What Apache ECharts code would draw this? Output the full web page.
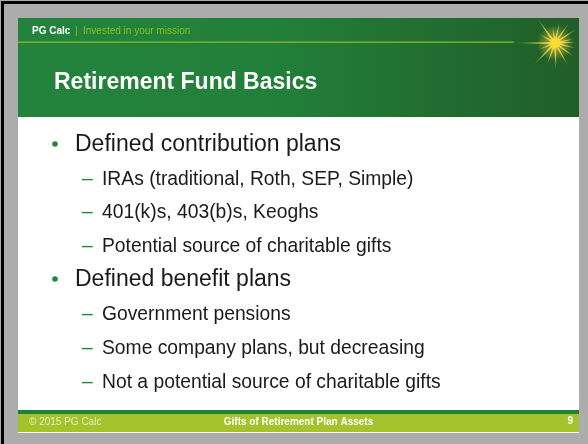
<!DOCTYPE html>
<html>
<head>
<meta charset="utf-8">
<script src="https://cdn.jsdelivr.net/npm/echarts@6/dist/echarts.min.js"></script>
<style>
html,body{margin:0;padding:0;background:#acacac;}
#c{width:588px;height:444px;}
</style>
</head>
<body>
<div id="c"></div>
<script>
// ---- content (text data) ----
var brandName = "PG Calc";
var brandTagline = "Invested in your mission";
var slideTitle = "Retirement Fund Basics";
var mainBullets = ["Defined contribution plans", "Defined benefit plans"];
var subBullets1 = ["IRAs (traditional, Roth, SEP, Simple)", "401(k)s, 403(b)s, Keoghs", "Potential source of charitable gifts"];
var subBullets2 = ["Government pensions", "Some company plans, but decreasing", "Not a potential source of charitable gifts"];
var footerLeft = "\u00A9 2015 PG Calc";
var footerCenter = "Gifts of Retirement Plan Assets";
var pageNumber = "9";

var FONT = '"Liberation Sans", Arial, sans-serif';
var chart = echarts.init(document.getElementById('c'), null, {renderer: 'canvas'});

var g = [];
// background + frame
g.push({type: 'rect', shape: {x: 0, y: 0, width: 588, height: 444}, style: {fill: '#acacac'}});
g.push({type: 'rect', shape: {x: 1, y: 1, width: 587, height: 3}, style: {fill: '#000'}});
g.push({type: 'rect', shape: {x: 1, y: 1, width: 3, height: 443}, style: {fill: '#000'}});
// slide
g.push({type: 'rect', shape: {x: 18, y: 18, width: 561, height: 415}, style: {fill: '#ffffff'}});
// header
g.push({type: 'rect', shape: {x: 18, y: 18, width: 561, height: 99}, style: {
  fill: {type: 'linear', x: 18, y: 0, x2: 579, y2: 0, global: true, colorStops: [
    {offset: 0, color: '#23823b'}, {offset: 0.45, color: '#22803a'},
    {offset: 0.78, color: '#216b2f'}, {offset: 1, color: '#215e27'}]}
}});
g.push({type: 'rect', shape: {x: 18, y: 41.5, width: 496, height: 1.2}, style: {fill: '#86c21c'}});

// star
var cx = 555, cy = 43;
var rays = [[180, 40], [-2, 22], [-12, 20], [-33, 26], [-55, 24], [-78, 22], [-98, 17], [-126, 30], [-150, 18],
            [14, 22], [36, 24], [60, 27], [88, 28], [110, 24], [134, 31], [158, 18]];
g.push({type: 'circle', shape: {cx: cx, cy: cy, r: 18}, style: {
  fill: {type: 'radial', x: 0.5, y: 0.5, r: 0.5, colorStops: [
    {offset: 0, color: 'rgba(255,228,70,0.95)'}, {offset: 0.3, color: 'rgba(248,210,55,0.55)'},
    {offset: 1, color: 'rgba(240,205,60,0)'}]}}});
rays.forEach(function (r) {
  var a = r[0] * Math.PI / 180, L = r[1];
  var ex = cx + Math.cos(a) * L, ey = cy + Math.sin(a) * L;
  var w = r[0] === 180 ? 1.0 : 1.2;
  var px = -Math.sin(a) * w, py = Math.cos(a) * w;
  g.push({type: 'polygon', shape: {points: [[cx + px, cy + py], [ex, ey], [cx - px, cy - py]]}, style: {
    fill: {type: 'linear', x: cx, y: cy, x2: ex, y2: ey, global: true, colorStops: [
      {offset: 0, color: 'rgba(255,222,55,1)'}, {offset: 0.6, color: 'rgba(245,220,90,0.75)'},
      {offset: 1, color: 'rgba(235,225,140,0.15)'}]}}});
});
g.push({type: 'circle', shape: {cx: cx, cy: cy, r: 4.5}, style: {fill: 'rgba(255,218,45,0.95)'}});

// header text
g.push({type: 'text', style: {text: brandName, x: 32, y: 31, font: 'bold 10px ' + FONT, fill: '#ffffff', textVerticalAlign: 'middle'}});
g.push({type: 'text', style: {text: '|', x: 75, y: 31, font: '10px ' + FONT, fill: '#86c21c', textVerticalAlign: 'middle'}});
g.push({type: 'text', style: {text: brandTagline, x: 83, y: 31, font: '10px ' + FONT, fill: '#86c21c', textVerticalAlign: 'middle'}});
g.push({type: 'text', style: {text: slideTitle, x: 54, y: 83, font: 'bold 23px ' + FONT, fill: '#ffffff', textVerticalAlign: 'middle'}});

// body
var mainY = [145, 280];
var subY = [[179.3, 212.8, 246.3], [314.8, 348.3, 382.3]];
var subs = [subBullets1, subBullets2];
mainBullets.forEach(function (t, i) {
  g.push({type: 'circle', shape: {cx: 55, cy: mainY[i] - 1, r: 2.8}, style: {fill: '#23863c'}});
  g.push({type: 'text', style: {text: t, x: 75, y: mainY[i], font: '23px ' + FONT, fill: '#1a1a1a', textVerticalAlign: 'middle'}});
  subs[i].forEach(function (s, j) {
    g.push({type: 'text', style: {text: '\u2013', x: 82, y: subY[i][j], font: '19.3px ' + FONT, fill: '#23863c', textVerticalAlign: 'middle'}});
    g.push({type: 'text', style: {text: s, x: 102, y: subY[i][j], font: '19.3px ' + FONT, fill: '#1a1a1a', textVerticalAlign: 'middle'}});
  });
});

// footer
g.push({type: 'rect', shape: {x: 18, y: 410, width: 561, height: 4}, style: {fill: '#1f803a'}});
g.push({type: 'rect', shape: {x: 18, y: 414, width: 561, height: 18}, style: {fill: '#a3c22b'}});
g.push({type: 'rect', shape: {x: 18, y: 432, width: 561, height: 1}, style: {fill: '#ffffff'}});
g.push({type: 'text', style: {text: footerLeft, x: 29, y: 422.5, font: '10px ' + FONT, fill: '#e6eec0', textVerticalAlign: 'middle'}});
g.push({type: 'text', style: {text: footerCenter, x: 298.5, y: 422.5, font: 'bold 10px ' + FONT, fill: '#ffffff', textAlign: 'center', textVerticalAlign: 'middle'}});
g.push({type: 'text', style: {text: pageNumber, x: 573, y: 421.5, font: 'bold 10px ' + FONT, fill: '#ffffff', textAlign: 'right', textVerticalAlign: 'middle'}});

chart.setOption({animation: false, graphic: {elements: g}});
</script>
</body>
</html>
